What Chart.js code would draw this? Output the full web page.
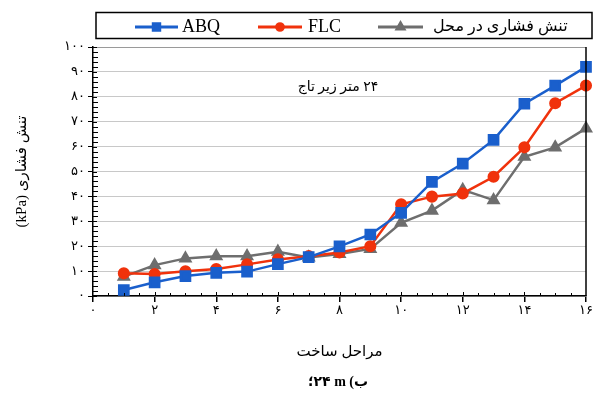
<!DOCTYPE html>
<html>
<head>
<meta charset="utf-8">
<script src="https://cdn.jsdelivr.net/npm/chart.js@4.4.1/dist/chart.umd.min.js"></script>
<style>
  html, body { margin: 0; padding: 0; background: #fff; }
  #wrap { width: 595px; height: 394px; }
</style>
</head>
<body>
<div id="wrap"><canvas id="stressChart" width="595" height="394" dir="rtl"></canvas></div>
<script>
// construction stages (x) and stresses in kPa
const stages = [1, 2, 3, 4, 5, 6, 7, 8, 9, 10, 11, 12, 13, 14, 15, 16];
const abqValues = [2.4, 5.5, 8.0, 9.3, 9.8, 12.8, 15.6, 19.9, 24.7, 33.4, 45.8, 53.2, 62.7, 77.2, 84.5, 92.0];
const flcValues = [9.1, 8.8, 9.9, 10.8, 12.7, 14.7, 16.0, 17.5, 20.0, 36.8, 39.9, 41.2, 47.9, 59.7, 77.4, 84.5];
const fieldValues = [7.8, 12.4, 15.1, 16.0, 16.0, 17.8, 15.5, 16.9, 18.9, 29.4, 34.3, 42.6, 38.5, 55.9, 59.7, 67.3];

const seriesLabels = ['ABQ', 'FLC', 'تنش فشاری در محل'];
const xTickValues = [0, 2, 4, 6, 8, 10, 12, 14, 16];
const yTickValues = [0, 10, 20, 30, 40, 50, 60, 70, 80, 90, 100];

const yTitle = 'تنش فشاری (kPa)';
const xTitle = 'مراحل ساخت';
// mixed-direction texts, kept in the left-to-right order they show in the figure
const noteRun = ['تاج', ' ', 'زیر', ' ', 'متر', ' ', '۲۴'];
const captionRun = ['؛', '۲۴', ' ', 'm', ' ', '(', 'ب'];

const faDigits = '۰۱۲۳۴۵۶۷۸۹';
const toFa = n => String(n).replace(/\d/g, d => faDigits[d]);

const baseFont = "'Liberation Serif', 'DejaVu Sans', serif";
const pairUp = vals => stages.map((s, i) => ({ x: s, y: vals[i] }));

function drawRun(ctx, pieces, cx, cy) {
    ctx.direction = 'ltr';
    ctx.textAlign = 'left';
    ctx.textBaseline = 'middle';
    const widths = pieces.map(p => ctx.measureText(p).width);
    let px = cx - widths.reduce((a, b) => a + b, 0) / 2;
    pieces.forEach((p, i) => {
        ctx.fillText(p, px, cy);
        px += widths[i];
    });
}

// minor ticks, right border, note, caption and the boxed legend
const decorations = {
    id: 'decorations',
    beforeDraw(chart) {
        chart.ctx.direction = 'rtl';
    },
    afterDraw(chart) {
        const { ctx, chartArea: area, scales: { x, y } } = chart;
        ctx.save();
        ctx.strokeStyle = '#000';
        ctx.lineWidth = 1;

        // y minor ticks every 2, inside the plot
        ctx.beginPath();
        for (let v = 0; v <= 100; v += 2) {
            const py = Math.round(y.getPixelForValue(v)) + 0.5;
            const len = v % 10 === 0 ? 4 : 5;
            ctx.moveTo(area.left, py);
            ctx.lineTo(area.left + len, py);
        }
        // x minor ticks every 0.5, inside the plot
        for (let v = 0.5; v < 16; v += 0.5) {
            const px = Math.round(x.getPixelForValue(v)) + 0.5;
            const len = v % 2 === 0 ? 4 : 3;
            ctx.moveTo(px, area.bottom);
            ctx.lineTo(px, area.bottom - len);
        }
        ctx.stroke();

        // right frame
        ctx.lineWidth = 1.5;
        ctx.beginPath();
        ctx.moveTo(area.right, area.top);
        ctx.lineTo(area.right, area.bottom);
        ctx.stroke();

        // note inside the plot
        ctx.fillStyle = '#000';
        ctx.font = "14px " + baseFont;
        drawRun(ctx, noteRun, x.getPixelForValue(7.95), y.getPixelForValue(84));

        // caption under the axis title
        ctx.font = "bold 14px " + baseFont;
        drawRun(ctx, captionRun, 338, 382);

        // legend box
        ctx.direction = 'rtl';
        ctx.strokeStyle = '#000';
        ctx.lineWidth = 1.5;
        ctx.strokeRect(96, 12.5, 496, 26);
        const slots = [[135, 178, 182, 18], [258, 302, 308, 18], [378, 423, 433, 16]];
        chart.data.datasets.forEach((ds, i) => {
            const [x1, x2, tx, fs] = slots[i];
            const ly = 27;
            ctx.strokeStyle = ds.borderColor;
            ctx.lineWidth = 3;
            ctx.beginPath();
            ctx.moveTo(x1, ly);
            ctx.lineTo(x2, ly);
            ctx.stroke();
            ctx.fillStyle = ds.pointBackgroundColor;
            Chart.helpers.drawPoint(ctx, {
                pointStyle: ds.pointStyle,
                radius: ds.pointRadius * 0.7,
                rotation: 0,
                borderWidth: 1
            }, (x1 + x2) / 2, ly);
            ctx.fillStyle = '#000';
            ctx.textAlign = 'left';
            ctx.textBaseline = 'middle';
            ctx.font = fs + "px " + baseFont;
            ctx.fillText(ds.label, tx, ly);
        });
        ctx.restore();
    }
};

new Chart(document.getElementById('stressChart'), {
    type: 'line',
    data: {
        datasets: [{
            label: seriesLabels[0],
            data: pairUp(abqValues),
            borderColor: '#1a5fcc',
            pointBackgroundColor: '#1a5fcc',
            borderWidth: 2.5,
            pointStyle: 'rect',
            pointRadius: 6.5
        }, {
            label: seriesLabels[1],
            data: pairUp(flcValues),
            borderColor: '#f0320c',
            pointBackgroundColor: '#f0320c',
            borderWidth: 2.5,
            pointStyle: 'circle',
            pointRadius: 4.8
        }, {
            label: seriesLabels[2],
            data: pairUp(fieldValues),
            borderColor: '#6e6e6e',
            pointBackgroundColor: '#6e6e6e',
            borderWidth: 2.5,
            pointStyle: 'triangle',
            pointRadius: 5.6
        }]
    },
    options: {
        responsive: false,
        animation: false,
        clip: false,
        layout: { padding: { top: 47, right: 2, left: 0, bottom: 0 } },
        elements: { line: { tension: 0 } },
        plugins: {
            legend: { display: false },
            tooltip: { enabled: false }
        },
        scales: {
            x: {
                type: 'linear',
                min: 0,
                max: 16,
                afterBuildTicks: s => { s.ticks = xTickValues.map(v => ({ value: v })); },
                afterFit: s => { s.height = 98; s.paddingLeft = 0; s.paddingRight = 0; },
                ticks: {
                    autoSkip: false,
                    maxRotation: 0,
                    padding: 1,
                    color: '#000',
                    font: { family: baseFont, size: 13 },
                    callback: v => toFa(v)
                },
                grid: { drawOnChartArea: false, tickLength: 6, tickColor: '#000', lineWidth: 1.5 },
                border: { color: '#000', width: 1.5 },
                title: {
                    display: true,
                    text: xTitle,
                    color: '#000',
                    font: { family: baseFont, size: 15 },
                    padding: { top: 0, bottom: 33 }
                }
            },
            y: {
                min: 0,
                max: 100,
                afterBuildTicks: s => { s.ticks = yTickValues.map(v => ({ value: v })); },
                afterFit: s => { s.width = 93; s.paddingTop = 0; s.paddingBottom = 0; },
                ticks: {
                    padding: 3,
                    color: '#000',
                    font: { family: baseFont, size: 13 },
                    callback: v => toFa(v)
                },
                grid: {
                    color: c => (c.tick && c.tick.value === 100) ? '#9a9a9a' : '#c8c8c8',
                    lineWidth: 1,
                    tickLength: 5,
                    tickColor: '#000'
                },
                border: { color: '#000', width: 1.5 },
                title: {
                    display: true,
                    text: yTitle,
                    color: '#000',
                    font: { family: baseFont, size: 15 },
                    padding: { top: 13, bottom: 0 }
                }
            }
        }
    },
    plugins: [decorations]
});
</script>
</body>
</html>
